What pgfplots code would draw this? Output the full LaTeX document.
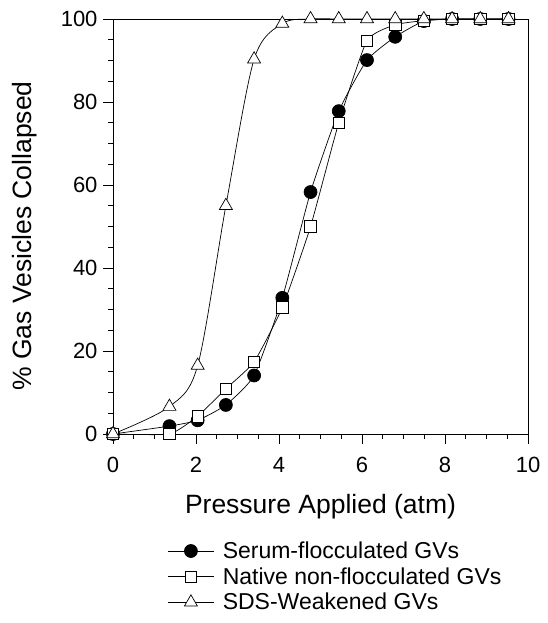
\documentclass[border=0pt]{standalone}
\usepackage{pgfplots}
\pgfplotsset{compat=1.18}
\usepackage{fontspec}
\setmainfont{Liberation Sans}

\begin{document}
\begin{tikzpicture}[x=1bp,y=1bp]
\useasboundingbox (0,0) rectangle (548,623);
\begin{axis}[
    at={(113bp,189bp)},
    scale only axis,
    width=415bp, height=415bp,
    xmin=0, xmax=10, ymin=0, ymax=100,
    xtick={0,2,...,10}, ytick={0,20,...,100},
    minor x tick num=3, minor y tick num=3,
    xtick pos=bottom, ytick pos=left,
    tick align=outside,
    major tick length=10bp, minor tick length=5bp,
    every tick/.style={black, line width=0.8bp},
    axis line style={line width=0.8bp},
    clip=false,
    /pgf/number format/assume math mode=true,
    tick label style={font=\fontsize{22bp}{26bp}\selectfont},
    xticklabel style={yshift=-10bp},
    yticklabel style={xshift=-2bp},
    label style={font=\fontsize{26.5bp}{31bp}\selectfont},
    xlabel={Pressure Applied (atm)},
    ylabel={\% Gas Vesicles Collapsed},
    xlabel style={at={(axis description cs:0.5,-0.176)}, anchor=center},
    ylabel style={at={(axis description cs:-0.212,0.477)}, anchor=center},
    legend style={
        at={(rel axis cs:0.125,-0.250)}, anchor=north west,
        draw=none, fill=none,
        font=\fontsize{23bp}{27bp}\selectfont,
        row sep=3.5bp, column sep=7bp,
    },
    legend cell align=left,
    legend image code/.code={
        \draw[mark repeat=2, mark phase=2, #1]
        plot coordinates {(0bp,0bp) (22.5bp,0bp) (45bp,0bp)};
    },
    every axis plot/.append style={line width=0.7bp, black},
]
\addplot[smooth, tension=0.3, mark=*, mark size=6.5bp, mark options={fill=black, solid}]
coordinates {
    (0,0) (1.36,1.9) (2.04,3.3) (2.72,7.0) (3.40,14.1) (4.08,32.8) (4.76,58.3)
    (5.44,77.8) (6.12,90.1) (6.80,95.7) (7.49,99.5) (8.17,100) (8.85,100) (9.53,100)
};
\addplot[smooth, tension=0.3, mark=square*, mark size=5.7bp, mark options={fill=white, solid}]
coordinates {
    (0,0) (1.36,0) (2.04,4.3) (2.72,10.9) (3.40,17.4) (4.08,30.5) (4.76,50)
    (5.44,75) (6.12,94.8) (6.80,98.6) (7.49,99.6) (8.17,100) (8.85,100) (9.53,100)
};
\addplot[smooth, tension=0.5, mark=triangle*, mark size=7.5bp, mark options={fill=white, solid}]
coordinates {
    (0,0) (1.36,6.6) (2.04,16.5) (2.72,55) (3.40,90.3) (4.08,98.9) (4.76,100)
    (5.44,100) (6.12,100) (6.80,100) (7.49,100) (8.17,100) (8.85,100) (9.53,100)
};
\legend{Serum-flocculated GVs, Native non-flocculated GVs, SDS-Weakened GVs}
\end{axis}
\end{tikzpicture}
\end{document}
